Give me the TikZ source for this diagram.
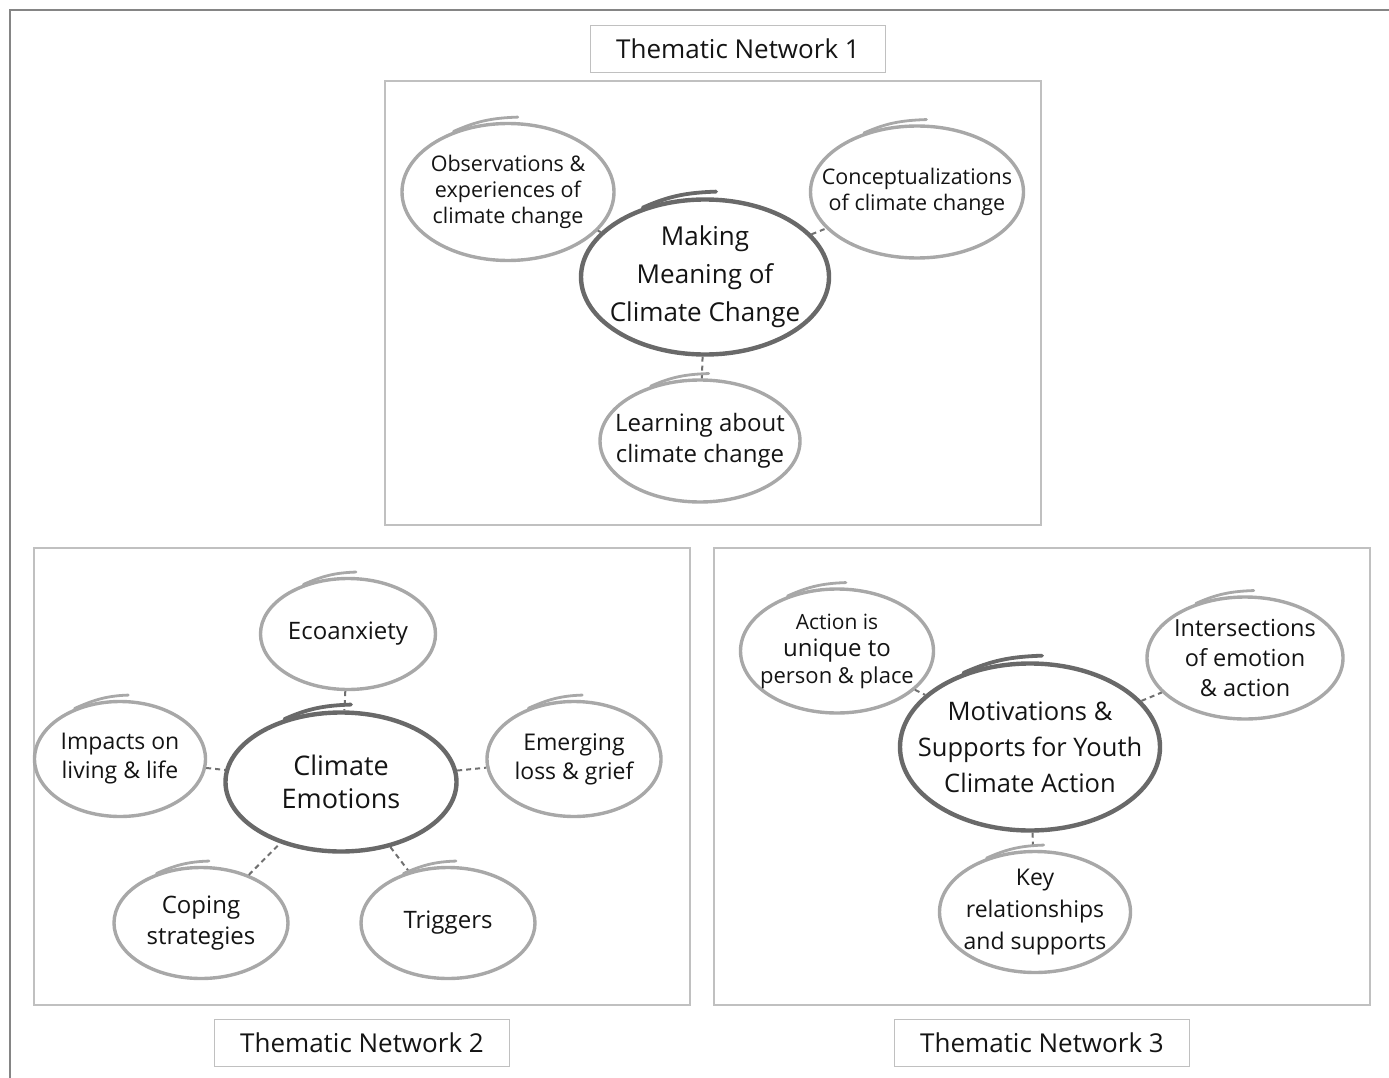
\documentclass[tikz,border=0pt]{standalone}
\usepackage{fontspec}
\setmainfont{Open Sans}
\usetikzlibrary{positioning,shapes.geometric,calc}

\definecolor{framegray}{HTML}{858585}
\definecolor{boxgray}{HTML}{C0C0C0}
\definecolor{ringgray}{HTML}{A8A8A8}
\definecolor{coregray}{HTML}{696969}
\definecolor{linkgray}{HTML}{707070}
\definecolor{inkblack}{HTML}{141414}

\tikzset{
  panel/.style={draw=boxgray, line width=1.6pt},
  titlebox/.style={draw=boxgray, line width=1.6pt, minimum width=295pt, minimum height=47pt, inner sep=0pt, text=inkblack, font=\fontsize{26}{30}\selectfont},
  bubble/.style 2 args={ellipse, draw=ringgray, line width=3.4pt, inner sep=-60pt, minimum width=#1pt, minimum height=#2pt, align=center, text=inkblack},
  core/.style 2 args={bubble={#1}{#2}, draw=coregray, line width=4.4pt},
  link/.style={draw=linkgray, line width=2pt, dash pattern=on 5pt off 4pt},
  tail/.style={line width=2.8pt, line cap=round},
}

\begin{document}
\begin{tikzpicture}[x=1pt, y=-1pt]
    \path[use as bounding box] (0,0) rectangle (1389,1078);

    % outer frame (cut at right and bottom)
    \draw[framegray, line width=2pt] (1389,10) -- (10,10) -- (10,1078);

    % panels
    \draw[panel] (385,81) rectangle (1041,525);
    \draw[panel] (34,548) rectangle (690,1005);
    \draw[panel] (714,548) rectangle (1370,1005);

    % titles
    \node[titlebox] (net1) at (738,49) {Thematic Network 1};
    \node[titlebox] (net2) at (362,1043) {Thematic Network 2};
    \node[titlebox] (net3) at (1042,1043) {Thematic Network 3};

    % Thematic Network 1
    \node[core={248}{155}, font=\fontsize{26}{38}\selectfont] (meaning) at (705,277) {Making\\Meaning of\\Climate Change};
    \node[bubble={212}{137}, font=\fontsize{21.5}{26}\selectfont] (observe) at (508,192) {Observations \&\\experiences of\\climate change};
    \node[bubble={213}{132}, font=\fontsize{21.5}{26}\selectfont] (concept) at (917,192) {Conceptualizations\\of climate change};
    \node[bubble={200}{122}, font=\fontsize{24}{31}\selectfont] (learning) at (700,441) {Learning about\\climate change};

    \draw[link] (observe) -- (meaning);
    \draw[link] (meaning) -- (concept);
    \draw[link] (meaning) -- (learning);

    % Thematic Network 2
    \node[core={231}{139}, font=\fontsize{27}{33}\selectfont] (emotions) at (341,782) {Climate\\Emotions};
    \node[bubble={175}{111}, font=\fontsize{24}{29}\selectfont] (ecoanx) at (348,634) {Ecoanxiety};
    \node[bubble={171}{115}, font=\fontsize{23}{29}\selectfont] (impacts) at (120,759) {Impacts on\\living \& life};
    \node[bubble={174}{115}, font=\fontsize{23}{29}\selectfont] (emerging) at (574,759) {Emerging\\loss \& grief};
    \node[bubble={174}{111}, font=\fontsize{24}{31}\selectfont] (coping) at (201,923) {Coping\\strategies};
    \node[bubble={174}{111}, font=\fontsize{24}{31}\selectfont] (triggers) at (448,923) {Triggers};

    \draw[link] (ecoanx) -- (emotions);
    \draw[link] (impacts) -- (emotions);
    \draw[link] (emotions) -- (emerging);
    \draw[link] (coping) -- (emotions);
    \draw[link] (emotions) -- (triggers);

    % Thematic Network 3
    \node[core={260}{167}, font=\fontsize{25.5}{36}\selectfont] (youth) at (1030,747) {Motivations \&\\Supports for Youth\\Climate Action};
    \node[bubble={193}{124}, font=\fontsize{21}{27}\selectfont] (unique) at (837,651) {Action is\\{\fontsize{24}{27}\selectfont unique to}\\{\fontsize{22}{27}\selectfont person \& place}};
    \node[bubble={196}{122}, font=\fontsize{23.5}{30}\selectfont] (intersect) at (1245,658) {Intersections\\of emotion\\\& action};
    \node[bubble={191}{121}, font=\fontsize{23}{32}\selectfont] (keyrel) at (1035,912) {Key\\relationships\\and supports};

    \draw[link] (unique) -- (youth);
    \draw[link] (youth) -- (intersect);
    \draw[link] (youth) -- (keyrel);

    % brush tails on top of the rings
    \foreach \n in {observe,concept,learning,ecoanx,impacts,emerging,coping,triggers,unique,intersect,keyrel}
      \draw[tail, ringgray] (\n.132) to[out=24, in=182] ([yshift=5pt]\n.82);
    \foreach \n in {meaning,emotions,youth}
      \draw[tail, coregray, line width=3.8pt] (\n.132) to[out=24, in=182] ([yshift=6pt]\n.82);
\end{tikzpicture}
\end{document}
